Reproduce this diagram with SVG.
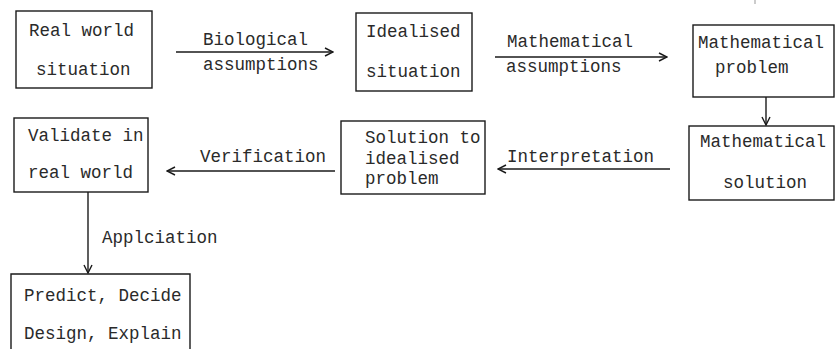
<svg xmlns="http://www.w3.org/2000/svg" width="836" height="349" viewBox="0 0 836 349">
<style>
.box{fill:none;stroke:#1a1a1a;stroke-width:1.4}
.t{font-family:"Liberation Mono","DejaVu Sans Mono",monospace;font-size:17.5px;fill:#2a2a2a}
.c{stroke:#1a1a1a;stroke-width:1.4;fill:none}
</style>
<defs>
<marker id="ah" viewBox="0 0 10 10" refX="9" refY="5" markerWidth="10" markerHeight="10" markerUnits="userSpaceOnUse" orient="auto">
<path d="M1,1 L9,5 L1,9" fill="none" stroke="#1a1a1a" stroke-width="1.4"/>
</marker>
</defs>
<rect x="0" y="0" width="836" height="349" fill="#ffffff"/>
<line x1="755" y1="0" x2="755" y2="4" stroke="#999" stroke-width="1"/>

<g id="real-world">
<rect class="box" x="16" y="11" width="136" height="77"/>
<text class="t" x="29" y="36">Real world</text>
<text class="t" x="36" y="75">situation</text>
</g>

<g id="idealised">
<rect class="box" x="356" y="13" width="116" height="78"/>
<text class="t" x="366" y="37">Idealised</text>
<text class="t" x="366" y="77">situation</text>
</g>

<g id="math-problem">
<rect class="box" x="693" y="25" width="141" height="72"/>
<text class="t" x="698" y="48">Mathematical</text>
<text class="t" x="715" y="73">problem</text>
</g>

<g id="math-solution">
<rect class="box" x="689" y="126" width="145" height="74"/>
<text class="t" x="700" y="147">Mathematical</text>
<text class="t" x="723" y="188">solution</text>
</g>

<g id="solution-idealised">
<rect class="box" x="341" y="121" width="144" height="73"/>
<text class="t" x="365" y="143">Solution to</text>
<text class="t" x="365" y="164">idealised</text>
<text class="t" x="365" y="184">problem</text>
</g>

<g id="validate">
<rect class="box" x="14" y="118" width="134" height="74"/>
<text class="t" x="28" y="141">Validate in</text>
<text class="t" x="28" y="178">real world</text>
</g>

<g id="predict">
<path class="box" d="M11,351 L11,274 L190,274 L190,351"/>
<text class="t" x="24" y="301">Predict, Decide</text>
<text class="t" x="24" y="339">Design, Explain</text>
</g>

<g id="connectors">
<line class="c" x1="176" y1="52" x2="333" y2="52" marker-end="url(#ah)"/>
<text class="t" x="203" y="45">Biological</text>
<text class="t" x="203" y="70">assumptions</text>

<line class="c" x1="495" y1="57" x2="667" y2="57" marker-end="url(#ah)"/>
<text class="t" x="507" y="47">Mathematical</text>
<text class="t" x="506" y="72">assumptions</text>

<line class="c" x1="766" y1="97" x2="766" y2="125" marker-end="url(#ah)"/>

<line class="c" x1="670" y1="169" x2="498" y2="169" marker-end="url(#ah)"/>
<text class="t" x="507" y="162">Interpretation</text>

<line class="c" x1="335" y1="171" x2="167" y2="171" marker-end="url(#ah)"/>
<text class="t" x="200" y="162">Verification</text>

<line class="c" x1="88" y1="192" x2="88" y2="273" marker-end="url(#ah)"/>
<text class="t" x="102" y="243">Applciation</text>
</g>
</svg>
